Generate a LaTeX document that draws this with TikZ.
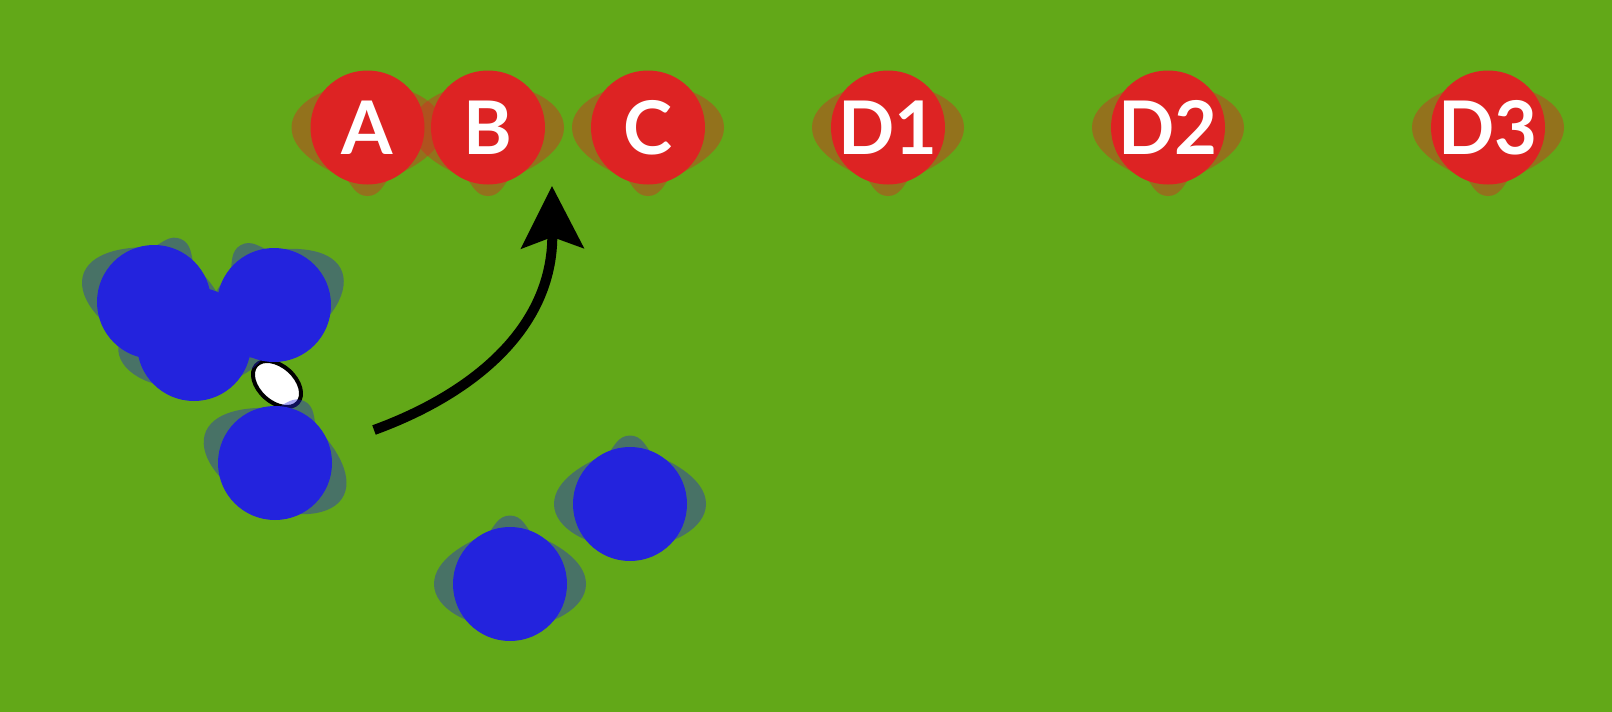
\documentclass[tikz,border=0pt]{standalone}
\usepackage{fontspec}
\setmainfont{Lato}
\usetikzlibrary{arrows.meta,shapes.geometric}
\definecolor{field}{RGB}{98,168,24}
\definecolor{redc}{RGB}{221,35,35}
\definecolor{bluec}{RGB}{35,35,221}
\tikzset{
  pshadow/.pic={\path[pic actions] (-76,0) .. controls (-76,-24) and (-44,-42) .. (-22,-50) .. controls (-16,-57) and (-12,-68.5) .. (0,-68.5) .. controls (12,-68.5) and (16,-57) .. (22,-50) .. controls (44,-42) and (76,-24) .. (76,0) .. controls (76,24) and (42,44) .. (0,44) .. controls (-42,44) and (-76,24) .. (-76,0) -- cycle;},
  redshadow/.style={fill=redc, fill opacity=0.4},
  blueshadow/.style={fill=bluec, fill opacity=0.4},
  redplayer/.style={circle, fill=redc, minimum size=114pt, inner sep=0pt, text=white,
    font=\bfseries\fontsize{74}{74}\selectfont, text height=53pt, text depth=0pt},
  blueplayer/.style={circle, fill=bluec, minimum size=114pt, inner sep=0pt},
  ballstyle/.style={ellipse, draw=black, fill=white, line width=4pt, minimum width=56pt, minimum height=36pt, inner sep=0pt},
  runline/.style={line width=10pt, draw=black, -{Stealth[length=62pt, width=62pt, inset=11pt]}}
}
\begin{document}
\begin{tikzpicture}[x=1pt, y=-1pt]
\fill[field] (0,0) rectangle (1612,712);
\useasboundingbox (0,0) rectangle (1612,712);
% ball
\node[ballstyle, rotate=-42] (ball) at (277,384) {};
% shadows
\pic[redshadow, rotate=180] at (367.5,127.5) {pshadow};
\pic[redshadow, rotate=180] at (488,127.5) {pshadow};
\pic[redshadow, rotate=180] at (648,127.5) {pshadow};
\pic[redshadow, rotate=180] at (888,127.5) {pshadow};
\pic[redshadow, rotate=180] at (1168,127.5) {pshadow};
\pic[redshadow, rotate=180] at (1488,127.5) {pshadow};
\pic[blueshadow, rotate=-23] at (154,302) {pshadow};
\pic[blueshadow, rotate=29] at (274,305) {pshadow};
\pic[blueshadow, rotate=5] at (194,344) {pshadow};
\pic[blueshadow, rotate=-25] at (275,463) {pshadow};
\pic[blueshadow] at (510,584) {pshadow};
\pic[blueshadow] at (630,504) {pshadow};
% red players
\node[redplayer] (A) at (367.5,127.5) {A};
\node[redplayer] (B) at (488,127.5) {B};
\node[redplayer] (C) at (648,127.5) {C};
\node[redplayer] (D1) at (888,127.5) {D1};
\node[redplayer] (D2) at (1168,127.5) {D2};
\node[redplayer] (D3) at (1488,127.5) {D3};
% blue players
\node[blueplayer] (b1) at (154,302) {};
\node[blueplayer] (b2) at (274,305) {};
\node[blueplayer] (b3) at (194,344) {};
\node[blueplayer] (b4) at (275,463) {};
\node[blueplayer] (b5) at (510,584) {};
\node[blueplayer] (b6) at (630,504) {};
% run arrow
\coordinate (rs) at (374,430);
\coordinate (re) at (552,186);
\draw[runline] (rs) .. controls (470,395) and (553,330) .. (re);
\end{tikzpicture}
\end{document}
